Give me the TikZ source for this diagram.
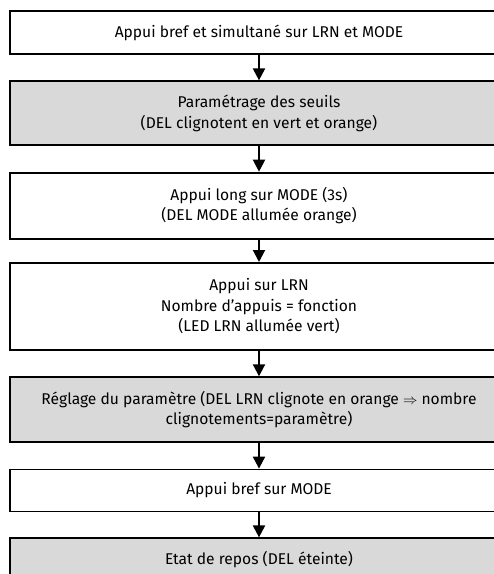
\documentclass[tikz,border=0pt]{standalone}
\usepackage{fontspec}
\setmainfont{Fira Sans}
\usepackage{amsmath}
\usepackage{tikz}
\usepackage{xcolor}
\usetikzlibrary{positioning}
\usetikzlibrary{arrows.meta}
\definecolor{fondgris}{RGB}{217,217,217}
\tikzset{box node/.style={rectangle,draw=black,line width=1.8pt,minimum width=498pt,align=center,inner sep=0pt,font=\fontsize{15.6}{20.5}\selectfont},
grey node/.style={box node,fill=fondgris},}

\begin{document}
\begin{tikzpicture}[x=1pt,y=1pt]
 \clip (0,0) rectangle (494,-574);
 \useasboundingbox (0,0) rectangle (494,-574);
 \fill[white] (0,0) rectangle (494,-574);

 \node[box node,minimum height=43pt] (1) at (259,-32.5) {Appui bref et simultané sur LRN et MODE};
    \node[grey node,minimum height=64pt] (2) [below = 25.5pt of 1] {Paramétrage des seuils\\(DEL clignotent en vert et orange)};
    \node[box node,minimum height=66pt] (3) [below = 25.5pt of 2] {Appui long sur MODE (3s)\\(DEL MODE allumée orange)};
    \node[box node,minimum height=87pt] (4) [below = 22.5pt of 3] {Appui sur LRN\\Nombre d’appuis = fonction\\(LED LRN allumée vert)};
    \node[grey node,minimum height=65pt] (5) [below = 25.5pt of 4] {Réglage du paramètre (DEL LRN clignote en orange $\Rightarrow$ nombre\\clignotements=paramètre)};
    \node[box node,minimum height=42pt] (6) [below = 25.5pt of 5] {Appui bref sur MODE};
    \node[grey node,minimum height=42pt] (7) [below = 25pt of 6] {Etat de repos (DEL éteinte)};
     \path[-{Triangle[width=12pt,length=12pt]},draw,line width=2pt]    (1) edge node {} (2);
     \path[-{Triangle[width=12pt,length=12pt]},draw,line width=2pt]    (2) edge node {} (3);
     \path[-{Triangle[width=12pt,length=12pt]},draw,line width=2pt]    (3) edge node {} (4);
     \path[-{Triangle[width=12pt,length=12pt]},draw,line width=2pt]    (4) edge node {} (5);
     \path[-{Triangle[width=12pt,length=12pt]},draw,line width=2pt]    (5) edge node {} (6);
     \path[-{Triangle[width=12pt,length=12pt]},draw,line width=2pt]    (6) edge node {} (7);
\end{tikzpicture}
\end{document}
